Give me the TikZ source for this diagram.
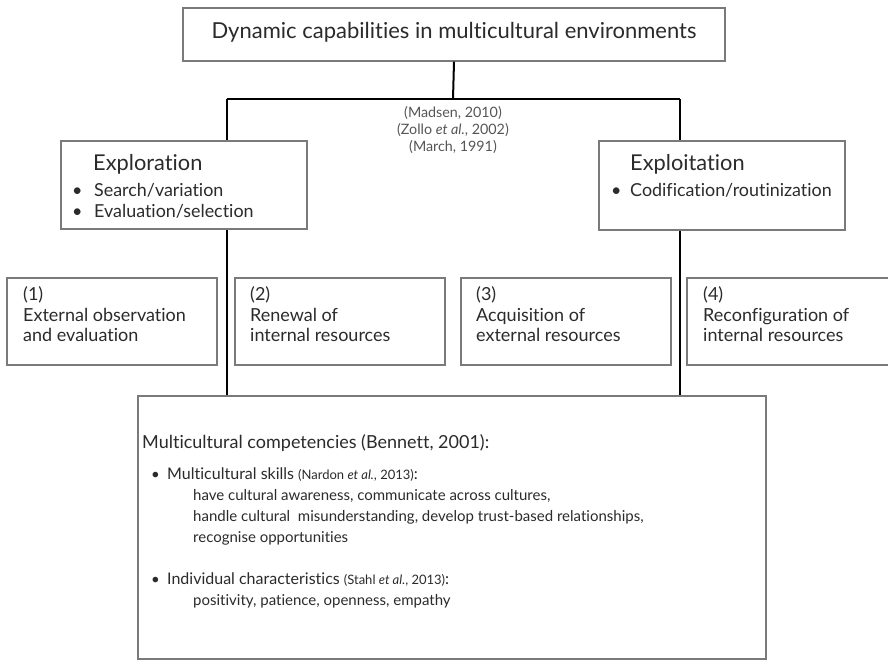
\documentclass[tikz,border=0pt]{standalone}
\usepackage{fontspec}
\setmainfont{Lato}[Ligatures=NoCommon]
\usetikzlibrary{positioning}
\definecolor{boxgray}{HTML}{7A7A7A}
\definecolor{inkgray}{HTML}{2B2B2B}
\definecolor{citegray}{HTML}{555555}
\tikzset{
  box/.style={draw=boxgray, line width=1.3pt, fill=white, inner sep=0pt},
  link/.style={draw=black, line width=2pt},
  txt/.style={anchor=base west, inner sep=0pt, text=inkgray},
  cite/.style={anchor=base, inner sep=0pt, text=citegray, font=\fontsize{14.3}{16}\selectfont},
  captxt/.style={txt, align=left, font=\fontsize{18}{20.4}\selectfont},
  body/.style={txt, align=left, font=\fontsize{15}{21}\selectfont},
}
\newcommand{\fs}[1]{\fontsize{#1}{#1}\selectfont}
\newcommand{\bul}{\textbullet}

\begin{document}
\begin{tikzpicture}[x=1pt, y=-1pt]
\useasboundingbox (0,0) rectangle (888,661);
\clip (0,0) rectangle (888,661);

\coordinate (hub) at (453,99);
\coordinate (lj) at (227,99);
\coordinate (rj) at (680,99);

\node[box, minimum width=542pt, minimum height=53pt] (title) at (454,34.5) {};
\node[txt, anchor=base, font=\fs{22}] (titletxt) at (454,38) {Dynamic capabilities in multicultural environments};
\node[box, minimum width=628pt, minimum height=263pt] (comp) at (452,527.5) {};

% connectors
\draw[link] (title.south) -- (hub);
\draw[link] (lj) -- (rj);
\draw[link] (lj) -- (lj |- comp.north);
\draw[link] (rj) -- (rj |- comp.north);

% citations
\node[cite] (c1) at (453,117) {(Madsen, 2010)};
\node[cite] (c2) at (453,134) {(Zollo \textit{et al.}, 2002)};
\node[cite] (c3) at (453,151) {(March, 1991)};

% exploration / exploitation
\node[box, minimum width=246pt, minimum height=88pt] (explor) at (184,185) {};
\node[box, minimum width=246pt, minimum height=89pt] (exploit) at (722,185.5) {};

\node[txt, font=\fs{21.8}] (explorhd) at (93,170) {Exploration};
\node[txt, font=\fs{17.9}] (explorb1) at (72,196) {\bul};
\node[txt, font=\fs{17.9}] (explort1) at (94,196) {Search/variation};
\node[txt, font=\fs{17.9}] (explorb2) at (72,217) {\bul};
\node[txt, font=\fs{17.9}] (explort2) at (94,217) {Evaluation/selection};

\node[txt, font=\fs{21.8}] (exploithd) at (630,170) {Exploitation};
\node[txt, font=\fs{17.9}] (exploitb1) at (611,196) {\bul};
\node[txt, font=\fs{17.9}] (exploitt1) at (630,196) {Codification/routinization};

% four capability boxes
\node[box, minimum width=210pt, minimum height=87pt] (cap1) at (112,321.5) {};
\node[box, minimum width=210pt, minimum height=87pt] (cap2) at (340,321.5) {};
\node[box, minimum width=210pt, minimum height=87pt] (cap3) at (566,321.5) {};
\node[box, minimum width=210pt, minimum height=87pt] (cap4) at (792,321.5) {};

\node[captxt] (cap1txt) at (23,341.7) {(1)\\External observation\\and evaluation};
\node[captxt] (cap2txt) at (250,341.7) {(2)\\Renewal of\\internal resources};
\node[captxt] (cap3txt) at (476,341.7) {(3)\\Acquisition of\\external resources};
\node[captxt] (cap4txt) at (703,341.7) {(4)\\Reconfiguration of\\internal resources};

% competencies
\node[txt, font=\fs{18}] (comphd) at (142,448) {Multicultural competencies (Bennett, 2001):};
\node[txt, font=\fs{15}] (compb1) at (151,479) {\bul};
\node[txt, font=\fs{16}] (skillshd) at (167,479) {Multicultural skills {\fontsize{13}{13}\selectfont(Nardon \textit{et al.}, 2013)}:};
\node[body] (skillstxt) at (193,542) {have cultural awareness, communicate across cultures,\\handle cultural\ \ misunderstanding, develop trust-based relationships,\\recognise opportunities};
\node[txt, font=\fs{15}] (compb2) at (151,584) {\bul};
\node[txt, font=\fs{16}] (indivhd) at (167,584) {Individual characteristics {\fontsize{13}{13}\selectfont(Stahl \textit{et al.}, 2013)}:};
\node[body] (indivtxt) at (193,605) {positivity, patience, openness, empathy};
\end{tikzpicture}
\end{document}
